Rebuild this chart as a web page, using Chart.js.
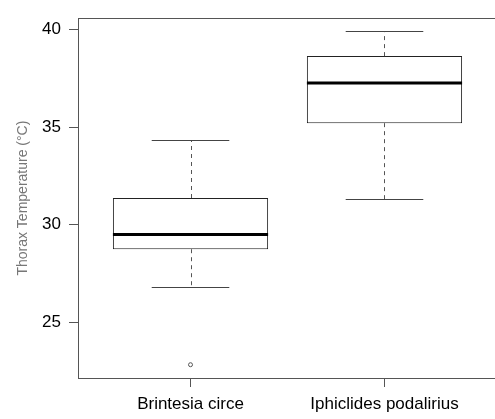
<!DOCTYPE html>
<html>
<head>
<meta charset="utf-8">
<script src="https://cdn.jsdelivr.net/npm/chart.js@4"></script>
<style>
  html, body { margin: 0; padding: 0; background: #fff; overflow: hidden; }
  #wrap { width: 502px; height: 419px; }
</style>
</head>
<body>
<div id="wrap"><canvas id="boxChart" width="502" height="419"></canvas></div>
<script>
// box plot values
var categories = ["Brintesia circe", "Iphiclides podalirius"];
var whiskerLow = [26.8, 31.3];
var q1 = [28.75, 35.2];
var median = [29.5, 37.25];
var q3 = [31.37, 38.63];
var whiskerHigh = [34.32, 39.9];
var outliers = [[22.84], []];
var yTicks = [25, 30, 35, 40];

var frameColor = "#555";

var boxData = categories.map(function (c, i) {
    return { x: i + 1, y: [q1[i], q3[i]] };
});
var outlierData = [];
outliers.forEach(function (list, i) {
    list.forEach(function (v) { outlierData.push({ x: i + 1, y: v }); });
});

// whiskers, caps, medians and top frame line
var boxExtras = {
    id: "boxExtras",
    afterDatasetsDraw: function (chart) {
        var ctx = chart.ctx, xs = chart.scales.x, ys = chart.scales.y;
        ctx.save();
        categories.forEach(function (c, i) {
            var x = Math.round(xs.getPixelForValue(i + 1)) + 0.5;
            ctx.strokeStyle = "#555";
            ctx.lineWidth = 1;
            ctx.setLineDash([4, 4]);
            ctx.beginPath();
            ctx.moveTo(x, ys.getPixelForValue(q3[i]));
            ctx.lineTo(x, ys.getPixelForValue(whiskerHigh[i]));
            ctx.moveTo(x, ys.getPixelForValue(q1[i]));
            ctx.lineTo(x, ys.getPixelForValue(whiskerLow[i]));
            ctx.stroke();
            ctx.setLineDash([]);

            ctx.strokeStyle = "#444";
            var cl = xs.getPixelForValue(i + 1 - 0.2), cr = xs.getPixelForValue(i + 1 + 0.2);
            [whiskerHigh[i], whiskerLow[i]].forEach(function (v) {
                var y = Math.round(ys.getPixelForValue(v)) + 0.5;
                ctx.beginPath();
                ctx.moveTo(cl, y);
                ctx.lineTo(cr, y);
                ctx.stroke();
            });

            ctx.strokeStyle = "#000";
            ctx.lineWidth = 3;
            var ym = ys.getPixelForValue(median[i]);
            ctx.beginPath();
            ctx.moveTo(xs.getPixelForValue(i + 1 - 0.4), ym);
            ctx.lineTo(xs.getPixelForValue(i + 1 + 0.4), ym);
            ctx.stroke();
        });
        var a = chart.chartArea;
        ctx.strokeStyle = frameColor;
        ctx.lineWidth = 1;
        ctx.beginPath();
        ctx.moveTo(a.left, Math.round(a.top) + 0.5);
        ctx.lineTo(a.right, Math.round(a.top) + 0.5);
        ctx.stroke();
        ctx.restore();
    }
};

var ctx = document.getElementById("boxChart").getContext("2d");
var chart = new Chart(ctx, {
    type: "bar",
    data: {
        datasets: [{
            type: "bar",
            data: boxData,
            backgroundColor: "#fff",
            borderColor: "#222",
            borderWidth: 1,
            borderSkipped: false,
            barPercentage: 0.8,
            categoryPercentage: 1
        }, {
            type: "scatter",
            data: outlierData,
            pointRadius: 2,
            pointStyle: "circle",
            backgroundColor: "#fff",
            borderColor: "#555",
            borderWidth: 1
        }]
    },
    options: {
        responsive: false,
        animation: false,
        devicePixelRatio: 1,
        layout: { padding: { top: 6, right: 0, bottom: 0, left: 0 } },
        plugins: { legend: { display: false }, tooltip: { enabled: false } },
        scales: {
            x: {
                type: "linear",
                min: 0.42,
                max: 2.58,
                offset: false,
                afterBuildTicks: function (s) {
                    s.ticks = categories.map(function (c, i) { return { value: i + 1 }; });
                },
                afterFit: function (s) { s.height = 41; },
                grid: { offset: false, drawOnChartArea: false, drawTicks: true, tickLength: 9, color: frameColor },
                border: { display: true, color: frameColor, width: 1 },
                ticks: {
                    color: "#000",
                    padding: 7,
                    maxRotation: 0,
                    autoSkip: false,
                    font: { family: "'Liberation Sans', Arial, sans-serif", size: 17 },
                    callback: function (v) { return categories[v - 1]; }
                }
            },
            y: {
                type: "linear",
                min: 22.16,
                max: 40.57,
                afterBuildTicks: function (s) {
                    s.ticks = yTicks.map(function (v) { return { value: v }; });
                },
                afterFit: function (s) { s.width = 78; },
                grid: { drawOnChartArea: false, drawTicks: true, tickLength: 9, color: frameColor },
                border: { display: true, color: frameColor, width: 1 },
                ticks: {
                    color: "#000",
                    padding: 8,
                    font: { family: "'Liberation Sans', Arial, sans-serif", size: 17 }
                },
                title: {
                    display: true,
                    text: "Thorax Temperature (°C)",
                    color: "#777",
                    padding: { top: 15 },
                    font: { family: "'Liberation Sans', Arial, sans-serif", size: 14 }
                }
            }
        }
    },
    plugins: [boxExtras]
});
</script>
</body>
</html>
